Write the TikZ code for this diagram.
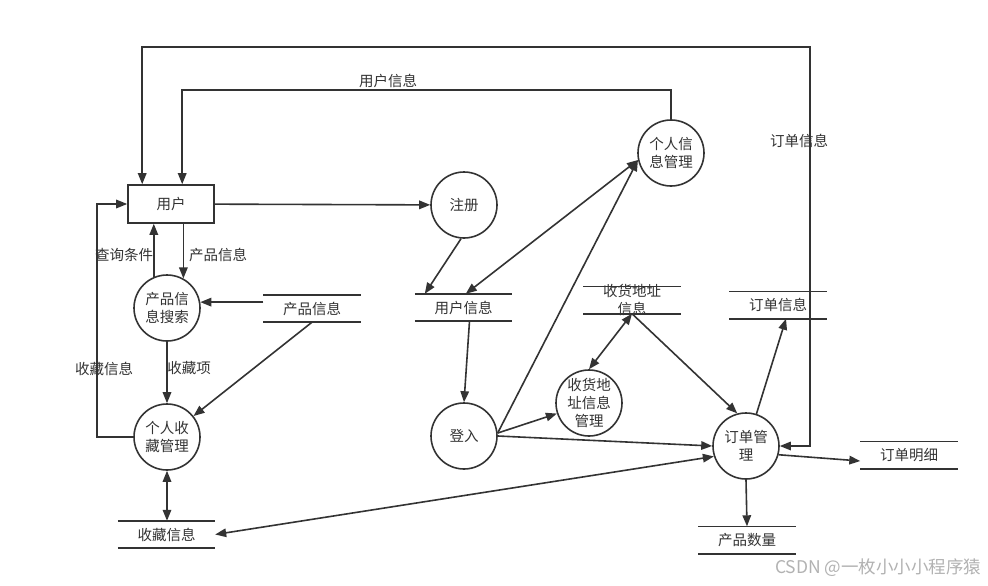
\documentclass[tikz,border=0pt]{standalone}
\usepackage{fontspec}
\setmainfont{Noto Sans CJK SC}
\usetikzlibrary{arrows.meta,calc}
\definecolor{ln}{HTML}{333333}
\begin{document}
\begin{tikzpicture}[x=1pt,y=-1pt,
  every node/.style={font=\fontsize{14.5}{18}\selectfont, text=ln},
  proc/.style={circle,draw=ln,line width=1.6pt,minimum size=66pt,inner sep=0pt,align=center},
  ent/.style={rectangle,draw=ln,line width=1.6pt,minimum width=86pt,minimum height=38pt,inner sep=0pt},
  store/.style={minimum width=97pt,minimum height=27pt,inner sep=0pt,align=center},
  sline/.style={draw=ln,line width=1.6pt},
  arr/.style={draw=ln,line width=1.6pt,-{Triangle[length=11pt,width=8.5pt]}},
  darr/.style={draw=ln,line width=1.6pt,{Triangle[length=11pt,width=8.5pt]}-{Triangle[length=11pt,width=8.5pt]}},
  lbl/.style={inner sep=1pt}
]
\useasboundingbox (0,0) rectangle (988,586);
\fill[white] (0,0) rectangle (988,586);

% processes and entity
\node[ent] (user) at (171,204) {用户};
\node[proc] (reg) at (464,205) {注册};
\node[proc] (pim) at (671,153) {个人信\\息管理};
\node[proc] (ss) at (167,308) {产品信\\息搜索};
\node[proc] (fav) at (167,437) {个人收\\藏管理};
\node[proc] (login) at (464,436) {登入};
\node[proc] (am) at (589,403) {收货地\\址信息\\管理};
\node[proc] (om) at (746,446) {订单管\\理};

% data stores
\node[store] (pi) at (312,308.5) {产品信息};
\node[store] (ui) at (463.5,307.5) {用户信息};
\node[store] (as) at (632,300) {};
\node[lbl,align=center] (ast) at (as) {收货地址\\信息};
\node[store] (oi) at (778,305) {订单信息};
\node[store] (od) at (909,455) {订单明细};
\node[store] (pq) at (747,540) {产品数量};
\node[store] (fs) at (166.5,534.5) {收藏信息};
\foreach \s in {pi,ui,as,oi,od,pq,fs}
  \draw[sline] (\s.north west) -- (\s.north east) (\s.south west) -- (\s.south east);

% connectors
\coordinate (tr) at (810,47);
\draw[darr] ([xshift=15]user.north west) |- (tr) |- (om.east);
\node[lbl] (l-oi) at (799,141) {订单信息};

\draw[arr] (pim.north) -- ++(0,-29) -| ([xshift=55]user.north west);
\node[lbl] (l-ui) at (388,81) {用户信息};

\draw[arr] (user) -- (reg);
\draw[arr] (ss.113) -- (ss.113 |- user.south);
\node[lbl] (l-q) at (124,255) {查询条件};
\draw[arr] (user.south -| ss.61) -- (ss.61);
\node[lbl] (l-p) at (218,255) {产品信息};

\draw[arr] (pi.west |- ss.10) -- (ss.10);
\draw[arr] (ss) -- (fav);
\node[lbl] (l-f) at (189,368) {收藏项};
\draw[arr] (pi.south) -- (fav);
\draw[arr] (fav.west) -- ++(-36,0) |- (user.west);
\node[lbl] (l-fi) at (104,369) {收藏信息};
\draw[darr] (fav.south) -- (fav.south |- fs.north);
\draw[darr] (fs.east) -- (om.198);

\draw[arr] (reg.265) -- ([xshift=10]ui.north west);
\draw[darr] (pim.192) -- ([xshift=51]ui.north west);
\draw[arr] ([xshift=6]ui.south) -- (login.north);
\draw[arr] (login.5) -- (pim.192);
\draw[arr] (login.5) -- (am);
\draw[arr] (login.east) -- (om.west);
\draw[darr] (as.south) -- (am.north);
\draw[arr] (as.south) -- (om.105);
\draw[arr] (om.72) -- ([xshift=8]oi.south);
\draw[arr] (om.345) -- ([yshift=-6]od.west);
\draw[arr] (om.south) -- (pq.north);

\node[font=\fontsize{17.5}{20}\selectfont, text=black!30, anchor=east] (wm) at (985,568) {CSDN @一枚小小小程序猿};
\end{tikzpicture}
\end{document}
